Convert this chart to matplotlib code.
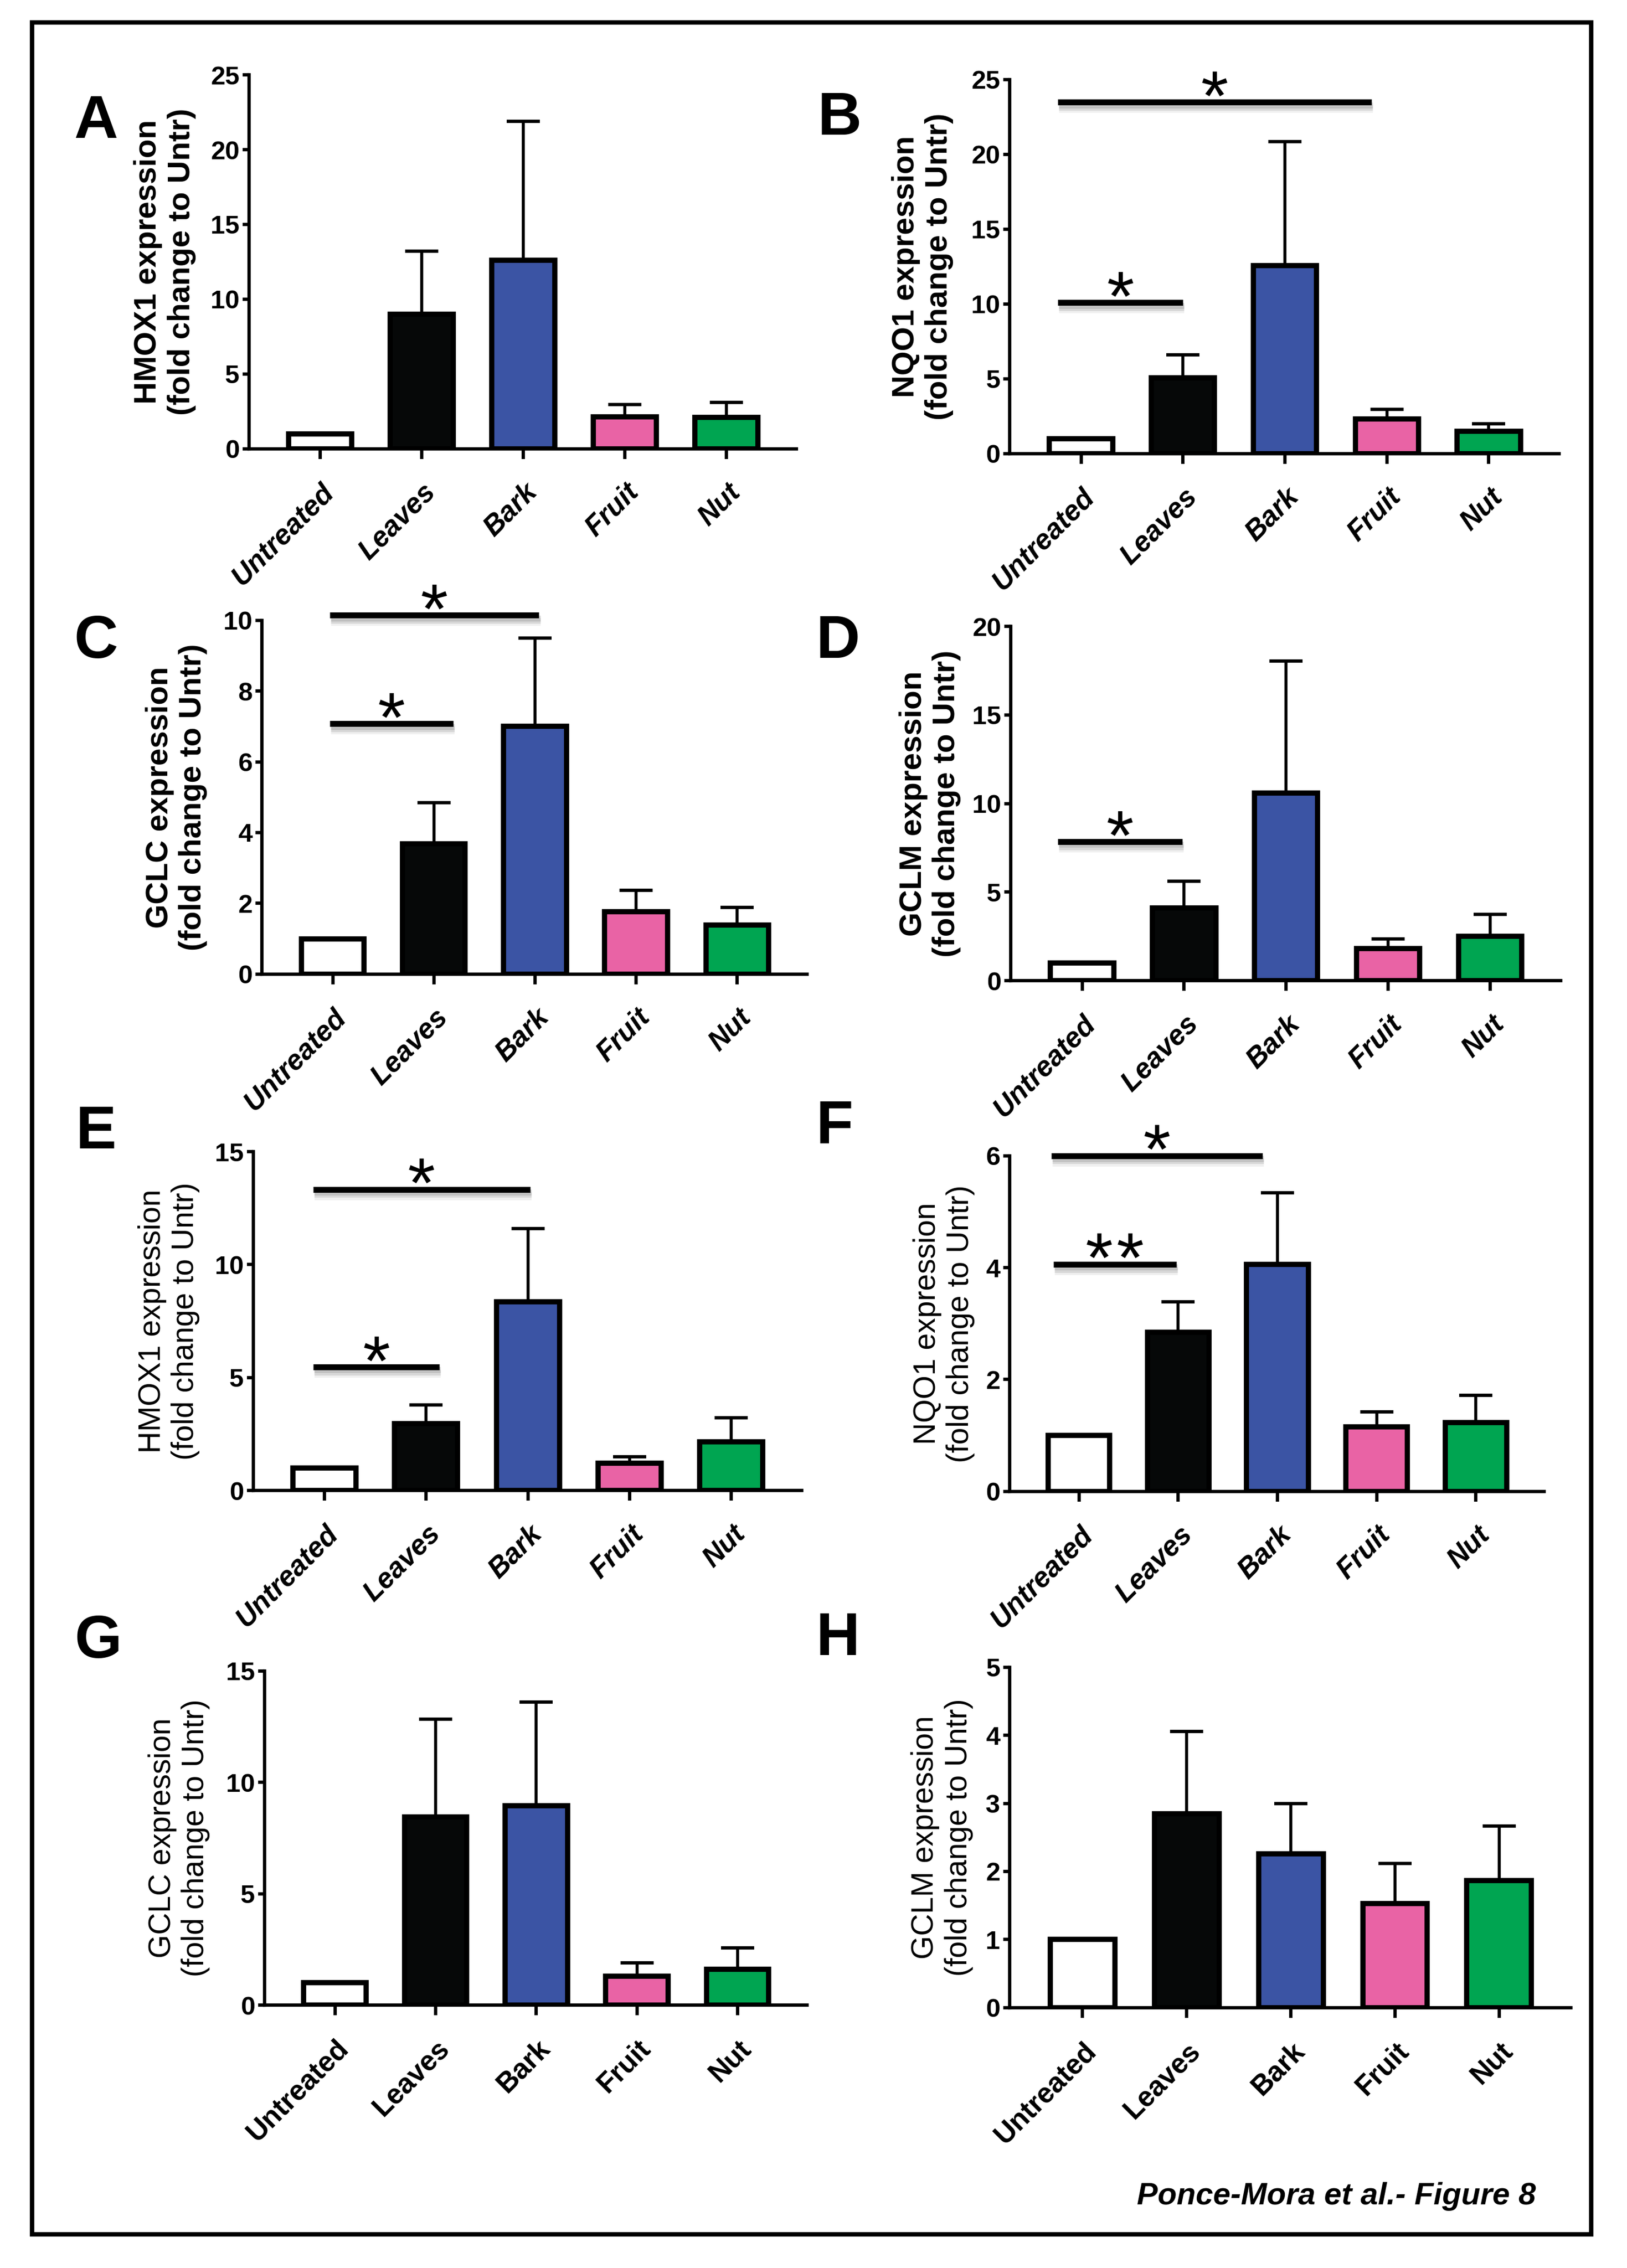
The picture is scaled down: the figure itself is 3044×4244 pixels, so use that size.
import matplotlib
matplotlib.use("Agg")
import matplotlib.pyplot as plt
import matplotlib.transforms as mtransforms
from matplotlib.patches import Rectangle
import numpy as np

plt.rcParams['font.family'] = ['Liberation Sans', 'DejaVu Sans']

categories = ["Untreated", "Leaves", "Bark", "Fruit", "Nut"]
bar_colors = ["#ffffff", "#060808", "#3b54a4", "#e963a5", "#00a551"]

# mean fold change and SEM (upper error only)
hmox1_a = [1.0, 9.0, 12.6, 2.15, 2.1]
hmox1_a_sem = [0, 4.2, 9.3, 0.8, 1.0]
nqo1_b = [1.0, 5.05, 12.55, 2.3, 1.5]
nqo1_b_sem = [0, 1.55, 8.3, 0.65, 0.5]
gclc_c = [1.0, 3.68, 7.0, 1.77, 1.39]
gclc_c_sem = [0, 1.17, 2.5, 0.6, 0.49]
gclm_d = [1.0, 4.1, 10.6, 1.8, 2.5]
gclm_d_sem = [0, 1.5, 7.45, 0.57, 1.25]
hmox1_e = [1.0, 2.95, 8.35, 1.2, 2.15]
hmox1_e_sem = [0, 0.84, 3.24, 0.3, 1.08]
nqo1_f = [1.0, 2.85, 4.06, 1.15, 1.23]
nqo1_f_sem = [0, 0.54, 1.28, 0.27, 0.49]
gclc_g = [1.0, 8.45, 8.95, 1.3, 1.62]
gclc_g_sem = [0, 4.38, 4.65, 0.6, 0.94]
gclm_h = [1.0, 2.85, 2.26, 1.53, 1.87]
gclm_h_sem = [0, 1.21, 0.74, 0.59, 0.8]

# significance bars: (x start, x end, y, number of stars)
sig_b = [(-0.23, 1.0, 10.1, 1), (-0.23, 2.85, 23.5, 1)]
sig_c = [(-0.03, 1.19, 7.08, 1), (-0.03, 2.04, 10.14, 1)]
sig_d = [(-0.24, 0.98, 7.85, 1)]
sig_e = [(-0.11, 1.13, 5.47, 1), (-0.11, 2.02, 13.33, 1)]
sig_f = [(-0.26, 0.98, 4.06, 2), (-0.28, 1.85, 6.0, 1)]

fig = plt.figure(figsize=(30.44, 42.44), dpi=100)

panels = [
    ("A", "HMOX1", hmox1_a, hmox1_a_sem, 25, 5, [], [.1531, .8021, .3364, .1649], (.059, .946), -0.097, "bold", "italic"),
    ("B", "NQO1", nqo1_b, nqo1_b_sem, 25, 5, sig_b, [.6206, .8000, .3377, .1649], (.516, .9475), -0.102, "bold", "italic"),
    ("C", "GCLC", gclc_c, gclc_c_sem, 10, 2, sig_c, [.161, .5705, .335, .1560], (.059, .7168), -0.10, "bold", "italic"),
    ("D", "GCLM", gclm_d, gclm_d_sem, 20, 5, sig_d, [.6212, .5676, .338, .1562], (.515, .7168), -0.09, "bold", "italic"),
    ("E", "HMOX1", hmox1_e, hmox1_e_sem, 15, 5, sig_e, [.1557, .3428, .337, .1494], (.059, .5005), -0.097, "normal", "italic"),
    ("F", "NQO1", nqo1_f, nqo1_f_sem, 6, 2, sig_f, [.6206, .3424, .3285, .1480], (.513, .5028), -0.065, "normal", "italic"),
    ("G", "GCLC", gclc_g, gclc_g_sem, 15, 5, [], [.1626, .1159, .3334, .1473], (.0605, .276), -0.10, "normal", "normal"),
    ("H", "GCLM", gclm_h, gclm_h_sem, 5, 1, [], [.6206, .1148, .345, .1501], (.515, .2771), -0.065, "normal", "normal"),
]

x = np.arange(len(categories))

for letter, gene, means, sem, top, step, sig, rect, lpos, lx, ylw, xstyle in panels:
    ax = fig.add_axes(rect)
    ax.bar(x, means, width=0.62, color=bar_colors, edgecolor="black", linewidth=7, zorder=3)
    ax.errorbar(x, means, yerr=[np.zeros(len(sem)), sem], fmt="none", ecolor="black",
                elinewidth=4, capsize=22, capthick=4.5, zorder=2)

    ax.set_xlim(-0.7, 4.69)
    ax.set_ylim(0, top)
    ticks = np.arange(0, top + step / 2, step)
    ax.set_yticks(ticks)
    ax.set_yticklabels([str(int(v)) for v in ticks], fontsize=35, fontweight="bold")
    ax.set_xticks(x)
    ax.set_xticklabels(categories, rotation=45, ha="right", va="top", rotation_mode="anchor",
                       fontsize=38, fontweight="bold", fontstyle=xstyle)
    ax.tick_params(axis="y", length=9, width=4.5, pad=4)
    ax.tick_params(axis="x", length=14, width=4.5, pad=26)
    for s in ["top", "right"]:
        ax.spines[s].set_visible(False)
    for s in ["left", "bottom"]:
        ax.spines[s].set_linewidth(4.5)

    ax.set_ylabel(f"{gene} expression\n(fold change to Untr)",
                  fontsize=42 if ylw == "bold" else 41, fontweight=ylw)
    ax.yaxis.set_label_coords(lx, 0.5)

    for x0, x1, y, nstars in sig:
        # soft grey drop shadow under each bar
        for dy, a in [(-4, 0.40), (-7, 0.28), (-10, 0.14)]:
            shadow = mtransforms.offset_copy(ax.transData, fig=fig, x=1.5, y=dy, units="points")
            ax.plot([x0, x1], [y, y], color="#9a9a9a", lw=8, alpha=a, transform=shadow,
                    clip_on=False, solid_capstyle="butt", zorder=4)
        ax.plot([x0, x1], [y, y], color="black", lw=8, clip_on=False,
                solid_capstyle="butt", zorder=5)
        for k in range(nstars):
            dx = (k - (nstars - 1) / 2) * 42
            ax.annotate("*", xy=((x0 + x1) / 2, y), xytext=(dx, -24), textcoords="offset points",
                        ha="center", va="baseline", fontsize=95, annotation_clip=False)

    fig.text(lpos[0], lpos[1], letter, fontsize=82, fontweight="bold", ha="center", va="center")

fig.text(.944, .0316, "Ponce-Mora et al.- Figure 8", ha="right", va="center",
         fontsize=42, fontweight="bold", fontstyle="italic")

fig.add_artist(Rectangle((.0197, .0148), .978 - .0197, .990 - .0148, transform=fig.transFigure,
                         fill=False, lw=6, edgecolor="black"))

fig.savefig("out.png", dpi=100)
